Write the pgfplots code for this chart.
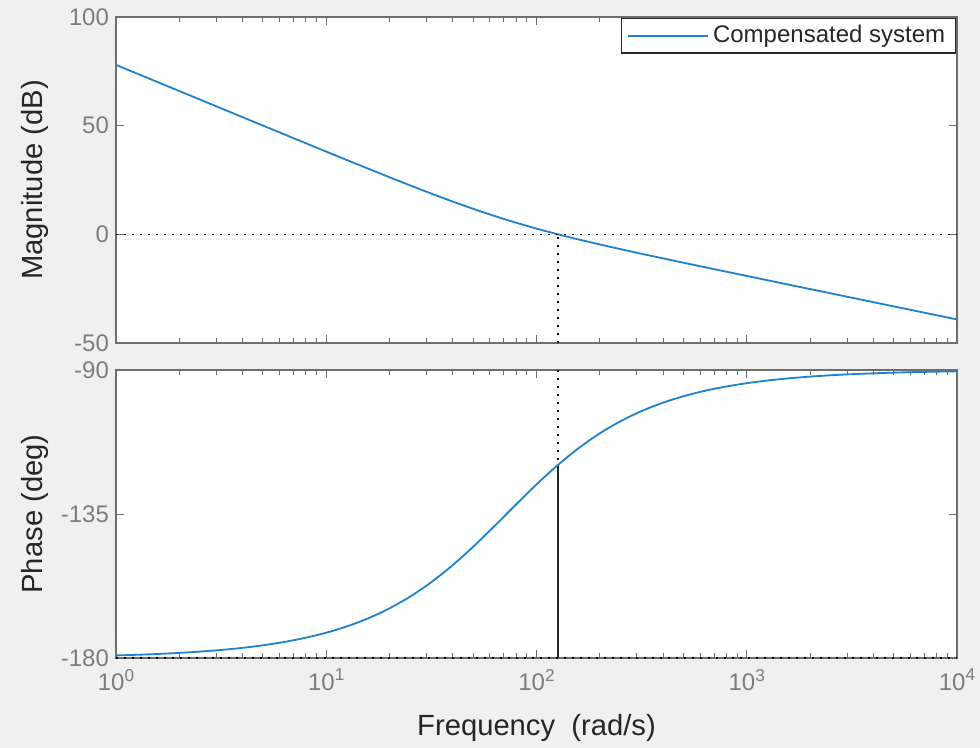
\documentclass[border=0pt]{standalone}
\usepackage{pgfplots}
\pgfplotsset{compat=1.18}
\usepackage{fontspec}
\setmainfont{Liberation Sans}

\definecolor{figbg}{RGB}{240,240,240}
\definecolor{axgray}{RGB}{110,110,110}
\definecolor{tickgray}{RGB}{125,125,125}
\definecolor{labdark}{RGB}{38,38,38}
\definecolor{mblue}{RGB}{30,130,205}

\newcommand{\dec}[1]{10\raisebox{4.6pt}{\fontsize{8.6}{10}\selectfont #1}}

\tikzset{marginline/.style={black, line width=0.8pt, dash pattern=on 0.8pt off 3.2pt}}

% Compensated open loop: magnitude (dB) and phase (deg) against frequency (rad/s)
\pgfplotstableread{
w        mag      ph
1        77.975   -179.20
1.2589   73.976   -179.00
1.5849   69.977   -178.74
1.9953   65.978   -178.41
2.5119   61.980   -178.00
3.1623   57.983   -177.49
3.9811   53.988   -176.84
5.0119   49.996   -176.02
6.3096   46.008   -174.99
7.9433   42.027   -173.70
10       38.058   -172.09
12.589   34.105   -170.08
15.849   30.180   -167.59
19.953   26.296   -164.51
25.119   22.474   -160.77
31.623   18.741   -156.29
39.811   15.133   -151.06
50.119   11.691   -145.16
63.096    8.449   -138.77
79.433    5.433   -132.19
100       2.642   -125.75
125.89    0.057   -119.77
158.49   -2.357   -114.43
199.53   -4.640   -109.84
251.19   -6.829   -105.99
316.23   -8.952   -102.83
398.11  -11.032   -100.25
501.19  -13.083    -98.18
630.96  -15.116    -96.51
794.33  -17.136    -95.18
1000    -19.150    -94.12
1258.9  -21.158    -93.27
1584.9  -23.163    -92.60
1995.3  -25.166    -92.07
2511.9  -27.168    -91.64
3162.3  -29.170    -91.30
3981.1  -31.171    -91.04
5011.9  -33.171    -90.82
6309.6  -35.172    -90.65
7943.3  -37.172    -90.52
10000   -39.172    -90.41
}\bodedata

\begin{document}
\begin{tikzpicture}
\fill[figbg] (0,0) rectangle (490pt,374pt);
\path[use as bounding box] (0,0) rectangle (490pt,374pt);

% Magnitude
\begin{axis}[
  xmode=log,
  scale only axis,
  width=420.5pt,
  height=163pt,
  at={(58pt,202.5pt)}, anchor=south west,
  xmin=1, xmax=10000,
  ymin=-50, ymax=100,
  axis background/.style={fill=white},
  axis line style={axgray, line width=0.75pt},
  every tick/.style={axgray, line width=0.5pt},
  major tick length=4.2pt,
  minor tick length=2.4pt,
  tick align=inside,
  xtick pos=both, ytick pos=both,
  xtick={1,10,100,1000,10000},
  xticklabels={},
  ytick={-50,0,50,100},
  yticklabels={-50,0,50,100},
  tick label style={font=\fontsize{12}{14}\selectfont, text=tickgray},
  label style={font=\fontsize{14.6}{17}\selectfont, text=labdark},
  clip=false,
  ylabel={Magnitude (dB)},
  ylabel style={at={(axis description cs:-0.0963,0.5)}, anchor=center},
  legend style={at={(axis description cs:0.9985,0.997)}, anchor=north east,
    draw=labdark, line width=0.6pt, fill=white,
    font=\fontsize{12}{14}\selectfont, text=labdark,
    inner xsep=3pt, inner ysep=1.5pt},
  legend image code/.code={\draw[#1] (0pt,0pt) -- (40pt,0pt);},
]
\addplot[mblue, line width=0.9pt, smooth] table[x=w, y=mag] {\bodedata};
\addlegendentry{Compensated system}
\addplot[marginline, forget plot] coordinates {(1,0) (10000,0)};
\addplot[marginline, forget plot] coordinates {(126.5,-50) (126.5,0)};
\end{axis}

% Phase
\begin{axis}[
  xmode=log,
  scale only axis,
  width=420.5pt,
  height=144pt,
  at={(58pt,45pt)}, anchor=south west,
  xmin=1, xmax=10000,
  ymin=-180, ymax=-90,
  axis background/.style={fill=white},
  axis line style={axgray, line width=0.75pt},
  every tick/.style={axgray, line width=0.5pt},
  major tick length=4.2pt,
  minor tick length=2.4pt,
  tick align=inside,
  xtick pos=both, ytick pos=both,
  xtick={1,10,100,1000,10000},
  xticklabels={\dec{0},\dec{1},\dec{2},\dec{3},\dec{4}},
  xticklabel style={yshift=-2pt},
  ytick={-180,-135,-90},
  yticklabels={-180,-135,-90},
  tick label style={font=\fontsize{12}{14}\selectfont, text=tickgray},
  label style={font=\fontsize{14.6}{17}\selectfont, text=labdark},
  clip=false,
  ylabel={Phase (deg)},
  ylabel style={at={(axis description cs:-0.0963,0.5)}, anchor=center},
  xlabel={Frequency\ \ (rad/s)},
  xlabel style={at={(axis description cs:0.5,-0.243)}, anchor=center},
]
\addplot[marginline] coordinates {(1,-180) (10000,-180)};
\addplot[marginline] coordinates {(126.5,-90) (126.5,-119.6)};
\addplot[black!85, line width=0.8pt] coordinates {(126.5,-180) (126.5,-119.6)};
\addplot[mblue, line width=0.9pt, smooth] table[x=w, y=ph] {\bodedata};
\end{axis}
\end{tikzpicture}
\end{document}
